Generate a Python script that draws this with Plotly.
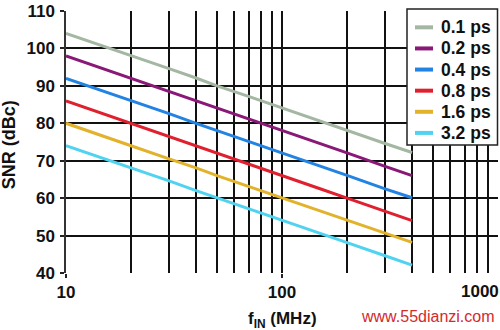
import plotly.graph_objects as go

# Data
freq_mhz = [10, 15, 20, 30, 40, 50, 70, 100, 150, 200, 300, 400]
snr_01ps = [104.0, 100.6, 98.0, 94.6, 92.1, 90.0, 87.2, 84.1, 80.6, 78.0, 74.6, 72.2]
snr_02ps = [98.0, 94.5, 92.1, 88.5, 86.1, 84.1, 81.1, 78.0, 74.6, 72.1, 68.5, 66.0]
snr_04ps = [92.0, 88.6, 86.0, 82.6, 80.0, 78.1, 75.1, 72.0, 68.6, 66.1, 62.5, 60.1]
snr_08ps = [86.0, 82.5, 80.0, 76.6, 74.1, 72.0, 69.1, 66.0, 62.5, 60.0, 56.6, 54.0]
snr_16ps = [80.0, 76.6, 74.0, 70.5, 68.1, 66.0, 63.1, 60.1, 56.6, 54.1, 50.6, 48.2]
snr_32ps = [74.0, 70.6, 68.0, 64.6, 62.0, 60.1, 57.1, 54.0, 50.6, 48.1, 44.6, 42.1]

series_names = ["0.1 ps", "0.2 ps", "0.4 ps", "0.8 ps", "1.6 ps", "3.2 ps"]
series_values = [snr_01ps, snr_02ps, snr_04ps, snr_08ps, snr_16ps, snr_32ps]
series_colors = ["#a3b7a2", "#8a1877", "#2383e2", "#e0202e", "#e2b22a", "#4fd3f0"]

x_major = [10, 100, 1000]
x_major_labels = ["10", "100", "1000"]
x_minor = [20, 30, 40, 50, 60, 70, 80, 90, 200, 300, 400, 500, 600, 700, 800, 900, 1000]
y_ticks = [40, 50, 60, 70, 80, 90, 100, 110]

FONT = "Liberation Sans, Arial, sans-serif"
BOLD17 = dict(family=FONT, size=17, color="#111", weight="bold")

W, H = 500, 330
ML, MR, MT, MB = 66, 2, 5, 57
PW, PH = W - ML - MR, H - MT - MB


def px_x(px):
    return (px - ML) / PW


def px_y(py):
    return (H - MB - py) / PH


fig = go.Figure()
for name, vals, col in zip(series_names, series_values, series_colors):
    fig.add_trace(go.Scatter(x=freq_mhz, y=vals, mode="lines", name=name,
                             line=dict(color=col, width=3), showlegend=False))

fig.update_layout(
    width=W, height=H,
    margin=dict(l=ML, r=MR, t=MT, b=MB),
    paper_bgcolor="white", plot_bgcolor="white",
    font=dict(family=FONT, size=17, color="#111"),
    showlegend=False,
)

fig.update_xaxes(
    type="log", range=[1, 3],
    tickvals=x_major[:2], ticktext=x_major_labels[:2],
    ticks="outside", ticklen=4, tickcolor="#222", tickwidth=1.5,
    showgrid=True, gridcolor="#111", gridwidth=1.5,
    minor=dict(tickvals=x_minor, showgrid=True, gridcolor="#111", gridwidth=1.5, ticks=""),
    showline=False, zeroline=False,
    tickfont=BOLD17,
    ticklabelstandoff=0,
    ticklabeloverflow="allow",
)
fig.update_yaxes(
    range=[40, 110], tickvals=y_ticks,
    ticktext=[str(v) for v in y_ticks],
    ticks="outside", ticklen=4, tickcolor="#222", tickwidth=1.5,
    showgrid=True, gridcolor="#111", gridwidth=1.5,
    showline=True, linecolor="#333", linewidth=1.5,
    zeroline=False,
    tickfont=BOLD17,
    ticklabelstandoff=2,
    ticklabeloverflow="allow",
)

# "1000" label right-aligned at the edge, like the reference
fig.add_annotation(x=3, y=0, xref="x", yref="paper", text=x_major_labels[2],
                   showarrow=False, xanchor="right", yanchor="top", xshift=3, yshift=-7,
                   font=BOLD17)

# Legend box drawn by hand (compact, like the reference)
fig.add_shape(type="rect", xref="paper", yref="paper",
              x0=px_x(407), x1=px_x(497.5), y0=px_y(142), y1=px_y(3),
              fillcolor="white", line=dict(color="#222", width=1.5), layer="above")
for i, (name, col) in enumerate(zip(series_names, series_colors)):
    cy = 21.7 + i * 21.6
    fig.add_shape(type="line", xref="paper", yref="paper",
                  x0=px_x(415), x1=px_x(433), y0=px_y(cy), y1=px_y(cy),
                  line=dict(color=col, width=4), layer="above")
    fig.add_annotation(x=px_x(439), y=px_y(cy), xref="paper", yref="paper",
                       text=name, showarrow=False, xanchor="left", yanchor="middle",
                       font=dict(family=FONT, size=17.5, color="#111", weight="bold"))

# Axis titles
fig.add_annotation(x=0.5, y=-0.18, xref="paper", yref="paper",
                   text="f<sub>IN</sub> (MHz)", showarrow=False,
                   xanchor="center", yanchor="middle",
                   font=BOLD17)
fig.add_annotation(x=-0.133, y=0.49, xref="paper", yref="paper",
                   text="SNR (dBc)", showarrow=False, textangle=-90,
                   xanchor="center", yanchor="middle",
                   font=dict(family=FONT, size=18, color="#111", weight="bold"))

# Watermark
fig.add_annotation(x=1, y=-0.165, xref="paper", yref="paper",
                   text="www.55dianzi.com", showarrow=False,
                   xanchor="right", yanchor="middle", xshift=-1,
                   font=dict(family=FONT, size=16, color="#d42a2a"))

fig.write_html("out.html")
